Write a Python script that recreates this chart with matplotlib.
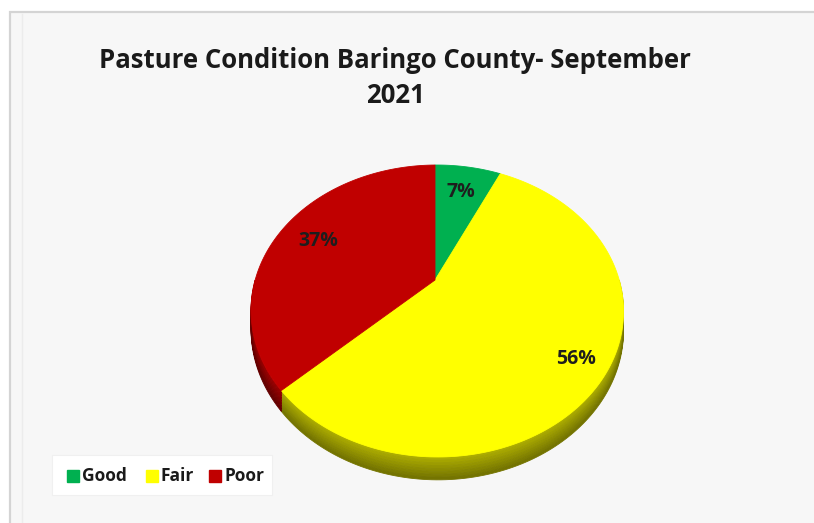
import numpy as np
import matplotlib
matplotlib.use("Agg")
import matplotlib.pyplot as plt
from matplotlib import font_manager
from matplotlib.patches import Polygon, Rectangle

# ---- data ----
categories = ["Good", "Fair", "Poor"]
shares = [7, 56, 37]
colors = ["#00b050", "#ffff00", "#c00000"]
side_colors = [("#007a38", "#00502a"), ("#b0b000", "#707000"), ("#9e0000", "#600000")]
title = "Pasture Condition Baringo County- September\n2021"


def pick_font(names):
    for n in names:
        try:
            font_manager.findfont(n, fallback_to_default=False)
            return n
        except Exception:
            continue
    return "DejaVu Sans"


FONT = pick_font(["Liberation Sans Narrow", "Open Sans", "Lato", "DejaVu Sans"])

W, H = 814, 523
fig = plt.figure(figsize=(W / 100, H / 100), dpi=100)
fig.patch.set_facecolor("white")
ax = fig.add_axes([0, 0, 1, 1])
ax.set_xlim(0, W)
ax.set_ylim(H, 0)
ax.axis("off")

# chart area
ax.add_patch(Rectangle((9.5, 12), 830, 540, facecolor="#f7f7f7",
                       edgecolor="#d4d4d4", lw=1.6, zorder=0))
ax.plot([22, 22], [14, H], color="#ececec", lw=1.0, zorder=0.5)

ax.text(395, 78, title, ha="center", va="center", fontsize=18.5,
        fontweight="bold", family=FONT, color="#1a1a1a", linespacing=1.4)

# ---- tilted pie with perspective ----
cx, cy = 435.0, 280.0
a1, b2 = 182.0, -139.4
c1, c2 = 0.2123, -0.012
d0 = 18.0


def project(t, r=1.0, drop=0.0):
    X = r * np.cos(t)
    Z = r * np.sin(t)
    w = 1 + c1 * Z + c2 * X
    return cx + a1 * X / w, cy + (b2 * Z + drop) / w


fr = np.array(shares, dtype=float) / np.sum(shares)
starts = np.pi / 2 - 2 * np.pi * np.concatenate([[0], np.cumsum(fr)[:-1]])
ends = starts - 2 * np.pi * fr

# sides (front half only, angles between pi and 2pi)
for s, e, (c_top, c_bot) in zip(starts, ends, side_colors):
    lo, hi = e, s
    for k in (-1, 0, 1):
        a = max(lo + 2 * np.pi * k, np.pi)
        b = min(hi + 2 * np.pi * k, 2 * np.pi)
        if b <= a:
            continue
        t = np.linspace(a, b, 120)
        bands = 8
        ct = np.array(matplotlib.colors.to_rgb(c_top))
        cb = np.array(matplotlib.colors.to_rgb(c_bot))
        for i in range(bands):
            f0, f1 = i / bands, (i + 1) / bands
            x0, y0 = project(t, drop=d0 * f0)
            x1, y1 = project(t[::-1], drop=d0 * f1)
            col = ct + (cb - ct) * (i + 0.5) / bands
            ax.add_patch(Polygon(np.column_stack([np.r_[x0, x1], np.r_[y0, y1]]),
                                 closed=True, facecolor=col, edgecolor=col,
                                 lw=0.6, zorder=2))

# top faces
for s, e, col in zip(starts, ends, colors):
    t = np.linspace(s, e, 200)
    x, y = project(t)
    ax.add_patch(Polygon(np.column_stack([np.r_[cx, x], np.r_[cy, y]]),
                         closed=True, facecolor=col, edgecolor=col, lw=0.6, zorder=3))

# data labels
label_r = [0.75, 0.85, 0.75]
for s, e, v, r in zip(starts, ends, shares, label_r):
    m = (s + e) / 2
    lx, ly = project(m, r=r)
    ax.text(lx, ly, f"{v}%", ha="center", va="center", fontsize=14,
            fontweight="bold", family=FONT, color="#1e1e1e", zorder=5)

# legend
ax.add_patch(Rectangle((52, 455), 220, 40, facecolor="white",
                       edgecolor="#f0f0f0", lw=0.8, zorder=1))
legend_x = [67, 146, 209]
for lxp, name, col in zip(legend_x, categories, colors):
    ax.add_patch(Rectangle((lxp, 470), 12, 12, facecolor=col, edgecolor=col, zorder=4))
    ax.text(lxp + 15, 476, name, ha="left", va="center", fontsize=12.5,
            fontweight="bold", family=FONT, color="#1a1a1a", zorder=4)

fig.savefig("out.png", dpi=100)
